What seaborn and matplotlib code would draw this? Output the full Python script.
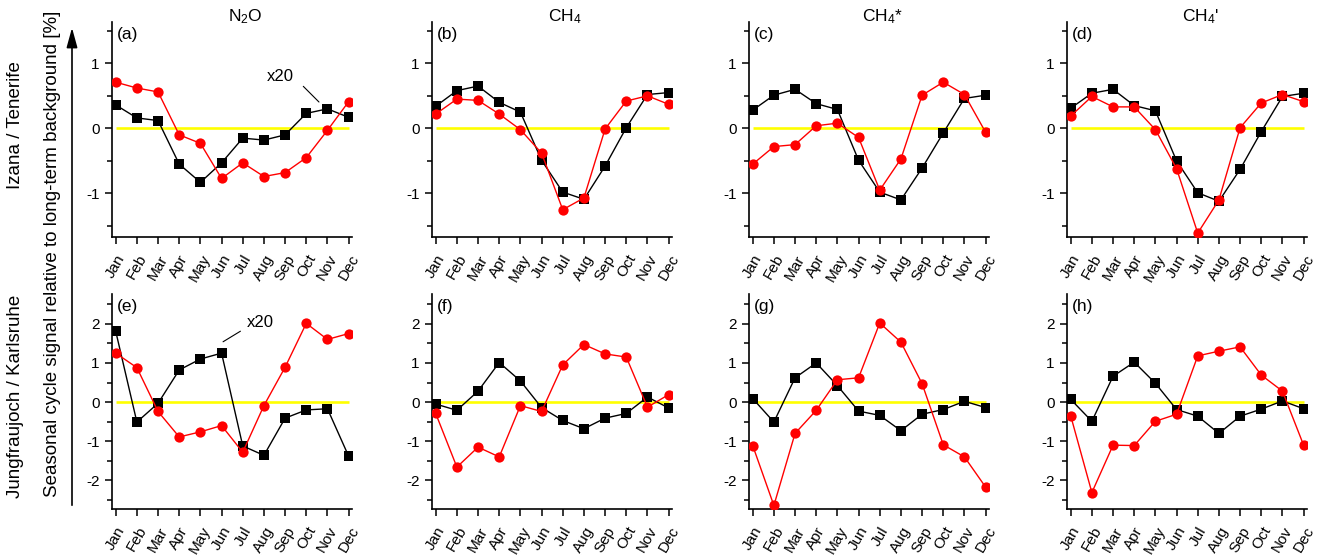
import numpy as np
import pandas as pd
import matplotlib
matplotlib.use("Agg")
import matplotlib.pyplot as plt
import seaborn as sns
from matplotlib.patches import FancyArrowPatch
from matplotlib.ticker import MultipleLocator
import matplotlib.transforms as mtransforms

# ---------------- data ----------------
months = ["Jan", "Feb", "Mar", "Apr", "May", "Jun",
          "Jul", "Aug", "Sep", "Oct", "Nov", "Dec"]

titles = ["N$_2$O", "CH$_4$", "CH$_4$*", "CH$_4$'"]
panel_labels_top = ["(a)", "(b)", "(c)", "(d)"]
panel_labels_bottom = ["(e)", "(f)", "(g)", "(h)"]
row_labels = ["Izana / Tenerife", "Jungfraujoch / Karlsruhe"]
main_label = "Seasonal cycle signal relative to long-term background [%]"

# Izana / Tenerife (top row)
izana_n2o_black = [0.36, 0.16, 0.12, -0.55, -0.83, -0.53, -0.15, -0.18, -0.10, 0.23, 0.30, 0.17]
izana_n2o_red = [0.71, 0.62, 0.56, -0.10, -0.23, -0.77, -0.53, -0.74, -0.68, -0.45, -0.03, 0.41]
izana_ch4_black = [0.34, 0.58, 0.65, 0.40, 0.25, -0.49, -0.98, -1.09, -0.58, 0.01, 0.52, 0.55]
izana_ch4_red = [0.22, 0.45, 0.43, 0.22, -0.02, -0.38, -1.25, -1.07, -0.01, 0.42, 0.50, 0.37]
izana_ch4s_black = [0.28, 0.51, 0.60, 0.38, 0.29, -0.49, -0.98, -1.10, -0.61, -0.07, 0.46, 0.51]
izana_ch4s_red = [-0.55, -0.28, -0.25, 0.04, 0.08, -0.14, -0.95, -0.47, 0.51, 0.71, 0.52, -0.06]
izana_ch4p_black = [0.31, 0.54, 0.60, 0.35, 0.27, -0.50, -0.99, -1.12, -0.63, -0.05, 0.49, 0.54]
izana_ch4p_red = [0.19, 0.49, 0.33, 0.33, -0.02, -0.62, -1.61, -1.10, 0.01, 0.39, 0.52, 0.41]

# Jungfraujoch / Karlsruhe (bottom row)
jfj_n2o_black = [1.81, -0.51, -0.03, 0.82, 1.10, 1.25, -1.12, -1.36, -0.41, -0.20, -0.17, -1.38]
jfj_n2o_red = [1.25, 0.88, -0.24, -0.89, -0.76, -0.60, -1.28, -0.09, 0.89, 2.01, 1.60, 1.75]
jfj_ch4_black = [-0.05, -0.21, 0.28, 1.01, 0.54, -0.14, -0.47, -0.68, -0.41, -0.29, 0.13, -0.15]
jfj_ch4_red = [-0.29, -1.66, -1.15, -1.40, -0.09, -0.24, 0.95, 1.47, 1.23, 1.15, -0.13, 0.19]
jfj_ch4s_black = [0.09, -0.51, 0.62, 1.00, 0.42, -0.23, -0.34, -0.73, -0.31, -0.19, 0.02, -0.14]
jfj_ch4s_red = [-1.11, -2.64, -0.80, -0.21, 0.57, 0.62, 2.02, 1.53, 0.47, -1.09, -1.40, -2.17]
jfj_ch4p_black = [0.07, -0.49, 0.66, 1.02, 0.48, -0.19, -0.36, -0.80, -0.36, -0.18, 0.03, -0.17]
jfj_ch4p_red = [-0.35, -2.31, -1.10, -1.11, -0.49, -0.31, 1.18, 1.30, 1.41, 0.69, 0.28, -1.10]

top_black = [izana_n2o_black, izana_ch4_black, izana_ch4s_black, izana_ch4p_black]
top_red = [izana_n2o_red, izana_ch4_red, izana_ch4s_red, izana_ch4p_red]
bot_black = [jfj_n2o_black, jfj_ch4_black, jfj_ch4s_black, jfj_ch4p_black]
bot_red = [jfj_n2o_red, jfj_ch4_red, jfj_ch4s_red, jfj_ch4p_red]

# ---------------- style ----------------
sns.set_style("ticks")
plt.rcParams["font.family"] = ["Liberation Sans", "DejaVu Sans"]
plt.rcParams["mathtext.fontset"] = "custom"
plt.rcParams["mathtext.rm"] = "Liberation Sans"
plt.rcParams["mathtext.it"] = "Liberation Sans:italic"
plt.rcParams["mathtext.bf"] = "Liberation Sans:bold"
for key in ["text.color", "axes.labelcolor", "xtick.color", "ytick.color",
            "axes.edgecolor"]:
    plt.rcParams[key] = "black"

W, H = 1328, 556
fig = plt.figure(figsize=(W / 100, H / 100), dpi=100)

lefts = [112, 432, 749, 1067]
ax_w = 240
rows = [(22, 237), (294, 509)]
ylims = [(-1.67, 1.635), (-2.73, 2.76)]

x = np.arange(1, len(months) + 1)


def make_ax(left, top, bottom):
    return fig.add_axes([left / W, 1 - bottom / H, ax_w / W, (bottom - top) / H])


def draw(ax, black, red, ylim, label):
    ax.hlines(0, x[0], x[-1], color="#FFFF00", lw=1.9, zorder=1)
    df_b = pd.DataFrame({"month": x, "value": black})
    df_r = pd.DataFrame({"month": x, "value": red})
    sns.lineplot(data=df_b, x="month", y="value", ax=ax, color="black", lw=1.0,
                 marker="s", markersize=6.8, markeredgewidth=0,
                 markeredgecolor="black", zorder=2)
    sns.lineplot(data=df_r, x="month", y="value", ax=ax, color="#FF0000", lw=1.0,
                 marker="o", markersize=7.4, markeredgewidth=0,
                 markeredgecolor="#FF0000", zorder=3)
    ax.set_xlim(0.825, 12.16)
    ax.set_ylim(*ylim)
    ax.set_xlabel("")
    ax.set_ylabel("")
    for s in ["top", "right"]:
        ax.spines[s].set_visible(False)
    for s in ["left", "bottom"]:
        ax.spines[s].set_linewidth(1.2)
        ax.spines[s].set_color("black")
    ax.yaxis.set_major_locator(MultipleLocator(1))
    ax.yaxis.set_minor_locator(MultipleLocator(0.5))
    ax.set_xticks(x)
    ax.set_xticklabels(months, rotation=60, ha="center", fontsize=11,
                       color="black")
    offset = mtransforms.ScaledTranslation(3 / 100, 0, fig.dpi_scale_trans)
    for lab in ax.get_xticklabels():
        lab.set_transform(lab.get_transform() + offset)
    ax.tick_params(axis="y", which="major", length=5, width=1.1, direction="out",
                   labelsize=11, pad=4, colors="black")
    ax.tick_params(axis="y", which="minor", length=3.3, width=1.1, direction="out",
                   colors="black")
    ax.tick_params(axis="x", which="major", length=5, width=1.1, direction="out",
                   pad=6, colors="black")
    ax.set_yticks(ax.get_yticks())
    ax.set_yticklabels([f"{int(v)}" for v in ax.get_yticks()])
    ax.set_ylim(*ylim)
    ax.text(5 / ax_w, 1 - 5 / 215, label, transform=ax.transAxes,
            ha="left", va="top", fontsize=12.5, color="black")


axes_top = []
axes_bot = []
for i in range(4):
    a = make_ax(lefts[i], *rows[0])
    draw(a, top_black[i], top_red[i], ylims[0], panel_labels_top[i])
    axes_top.append(a)
    b = make_ax(lefts[i], *rows[1])
    draw(b, bot_black[i], bot_red[i], ylims[1], panel_labels_bottom[i])
    axes_bot.append(b)
    fig.text((lefts[i] + ax_w / 2 + 13) / W, 1 - 21 / H, titles[i],
             ha="center", va="baseline", fontsize=12.5)

# "x20" annotations
axes_top[0].text(8.79, 0.80, "x20", ha="center", va="center", fontsize=12)
axes_top[0].annotate("", xy=(10.60, 0.405), xytext=(9.86, 0.646),
                     arrowprops=dict(arrowstyle="-", lw=0.8, color="black",
                                     shrinkA=0, shrinkB=0))
axes_bot[0].text(7.81, 2.02, "x20", ha="center", va="center", fontsize=12)
axes_bot[0].annotate("", xy=(6.89, 1.81), xytext=(6.07, 1.54),
                     arrowprops=dict(arrowstyle="-", lw=0.8, color="black",
                                     shrinkA=0, shrinkB=0))

# row labels and main label
fig.text(16 / W, 1 - 125 / H, row_labels[0], rotation=90, ha="center", va="center",
         fontsize=13.5)
fig.text(16 / W, 1 - 396 / H, row_labels[1], rotation=90, ha="center", va="center",
         fontsize=13.5)
fig.text(53 / W, 1 - 254 / H, main_label, rotation=90, ha="center", va="center",
         fontsize=13.5)

arrow = FancyArrowPatch((72 / W, 1 - 508 / H), (72 / W, 1 - 25 / H),
                        transform=fig.transFigure,
                        arrowstyle="-|>,head_length=0.8,head_width=0.22",
                        mutation_scale=15, lw=1.2, color="black")
fig.add_artist(arrow)

fig.savefig("out.png", dpi=100)
